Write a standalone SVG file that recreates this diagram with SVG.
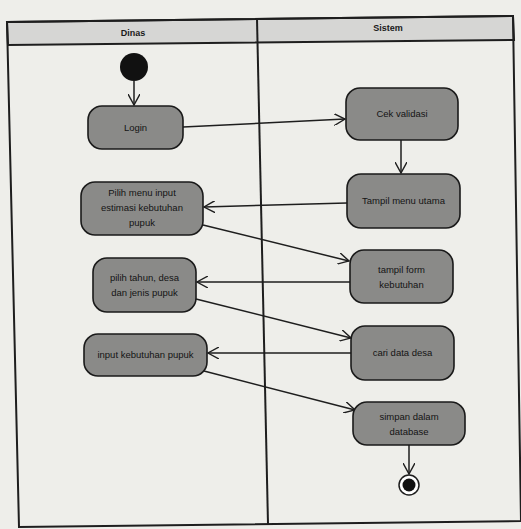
<svg xmlns="http://www.w3.org/2000/svg" width="521" height="529" viewBox="0 0 521 529">
<style>
.bg{fill:#eeeeea}
.lane{fill:none;stroke:#1e1e1e;stroke-width:2}
.hdr{fill:#d6d6d4;stroke:#1e1e1e;stroke-width:2}
.act{fill:#8a8a88;stroke:#1a1a1a;stroke-width:1.6}
.t{font-family:"Liberation Sans",Arial,sans-serif;font-size:9.5px;fill:#141414;text-anchor:middle}
.h{font-family:"Liberation Sans",Arial,sans-serif;font-size:9px;font-weight:bold;fill:#1a1a1a;text-anchor:middle}
.c{fill:none;stroke:#1e1e1e;stroke-width:1.5;marker-end:url(#arr)}
</style>
<defs>
<marker id="arr" viewBox="0 0 12 12" refX="11" refY="6" markerWidth="12" markerHeight="12" markerUnits="userSpaceOnUse" orient="auto">
<path d="M0,0 L11,6 L0,12" fill="none" stroke="#1e1e1e" stroke-width="1.4"/>
</marker>
</defs>
<rect class="bg" x="0" y="0" width="521" height="529"/>
<g id="swimlanes">
<polygon class="hdr" points="7,22 513,16 514,40 8,45"/>
<polygon class="lane" points="7,22 513,16 521,521 19,527"/>
<line x1="257" y1="19" x2="268" y2="524" stroke="#1e1e1e" stroke-width="2"/>
<text class="h" x="133" y="36">Dinas</text>
<text class="h" x="388" y="31">Sistem</text>
</g>
<g id="connectors">
<line class="c" x1="134" y1="81" x2="134" y2="105"/>
<line class="c" x1="183" y1="127" x2="345" y2="119"/>
<line class="c" x1="401" y1="140" x2="401" y2="173"/>
<line class="c" x1="347" y1="203" x2="204" y2="207"/>
<line class="c" x1="203" y1="225" x2="349" y2="261"/>
<line class="c" x1="350" y1="282" x2="197" y2="282"/>
<line class="c" x1="196" y1="299" x2="351" y2="338"/>
<line class="c" x1="351" y1="353" x2="208" y2="353"/>
<line class="c" x1="204" y1="371" x2="355" y2="410"/>
<line class="c" x1="409" y1="445" x2="409" y2="474"/>
</g>
<g id="start"><circle cx="134" cy="67" r="14" fill="#111"/></g>
<g id="login"><rect class="act" x="88" y="106" width="95" height="43" rx="14"/><text class="t" x="135.5" y="131">Login</text></g>
<g id="cek"><rect class="act" x="346" y="88" width="112" height="52" rx="14"/><text class="t" x="402" y="117">Cek validasi</text></g>
<g id="tampilmenu"><rect class="act" x="347" y="174" width="113" height="54" rx="14"/><text class="t" x="403.5" y="204">Tampil menu utama</text></g>
<g id="pilihmenu"><rect class="act" x="81" y="182" width="122" height="53" rx="14"/><text class="t" x="142" y="196">Pilih menu input</text><text class="t" x="142" y="211">estimasi kebutuhan</text><text class="t" x="142" y="226">pupuk</text></g>
<g id="tampilform"><rect class="act" x="350" y="250" width="103" height="53" rx="14"/><text class="t" x="401.5" y="273">tampil form</text><text class="t" x="401.5" y="288">kebutuhan</text></g>
<g id="pilihtahun"><rect class="act" x="93" y="258" width="103" height="54" rx="14"/><text class="t" x="144.5" y="281">pilih tahun, desa</text><text class="t" x="144.5" y="296">dan jenis pupuk</text></g>
<g id="caridata"><rect class="act" x="351" y="326" width="103" height="54" rx="14"/><text class="t" x="402.5" y="356">cari data desa</text></g>
<g id="inputkeb"><rect class="act" x="84" y="334" width="123" height="42" rx="14"/><text class="t" x="145.5" y="358">input kebutuhan pupuk</text></g>
<g id="simpan"><rect class="act" x="353" y="402" width="112" height="43" rx="14"/><text class="t" x="409" y="420">simpan dalam</text><text class="t" x="409" y="435">database</text></g>
<g id="end"><circle cx="409" cy="485" r="10" fill="#fff" stroke="#1e1e1e" stroke-width="1.5"/><circle cx="409" cy="485" r="6.5" fill="#111"/></g>
</svg>
